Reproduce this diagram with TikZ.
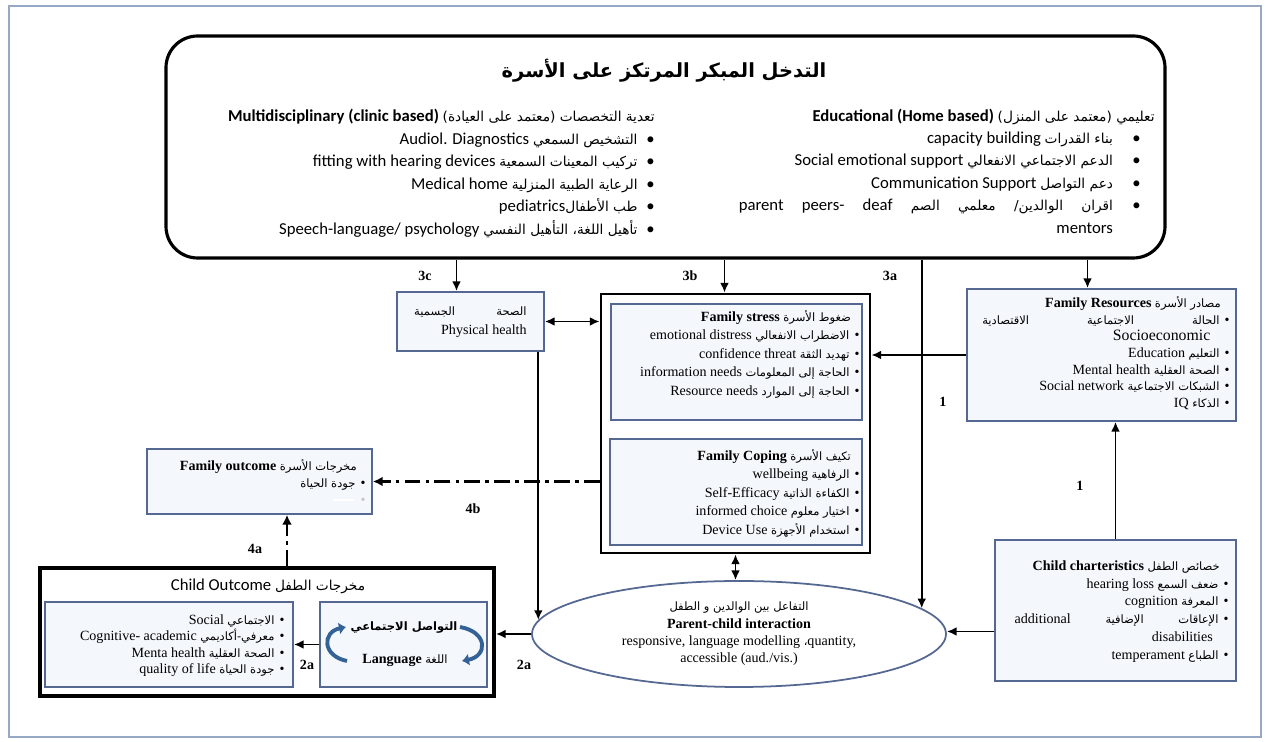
\documentclass[tikz,border=0pt]{standalone}
\usepackage{fontspec}
\setmainfont{Liberation Serif}
\newfontfamily\calib{Carlito}
\newfontfamily\arabicfont[Script=Arabic,Scale=0.82]{DejaVu Sans}
\TeXXeTstate=1
\usepackage{tikz}
\usetikzlibrary{arrows.meta,positioning,calc,shapes.geometric}
\definecolor{boxblue}{RGB}{84,104,145}
\definecolor{boxfill}{RGB}{244,247,252}
\definecolor{framegray}{RGB}{150,168,196}
\definecolor{cycleblue}{RGB}{52,98,150}
\newdimen\pxu \pxu=0.02cm

\newcommand{\arx}[1]{{\arabicfont #1}}
\newcommand{\rlx}[1]{\beginR #1\endR}
\newcommand{\lrx}[1]{\beginL #1\endL{}}
\newcommand{\jst}[2]{\hbox to #1{\beginR #2\endR}}
\newcommand{\itm}[3][3pt]{\rlx{\textbullet\hspace{#1}\arx{#2} \lrx{#3}}}
\newcommand{\hdr}[2]{\rlx{\hspace{5pt}\arx{#1} \lrx{\textbf{#2}}}}

\begin{document}
\begin{tikzpicture}[x=0.02cm, y=-0.02cm,
    box/.style={rectangle, draw=boxblue, line width=1pt, fill=boxfill, inner sep=0pt},
    bigbox/.style={rectangle, draw, line width=1.6pt, inner sep=0pt},
    cobox/.style={rectangle, draw, line width=2.2pt, inner sep=0pt},
    topbox/.style={rectangle, draw, line width=1.8pt, rounded corners=18pt, inner sep=0pt},
    topcol/.style={inner sep=0pt, align=right, font=\calib\fontsize{9.5}{12.8}\selectfont},
    txt/.style={inner sep=0pt, align=right, font=\fontsize{8}{#1}\selectfont},
    txt/.default=10.4pt,
    lbl/.style={inner sep=0pt, font=\fontsize{8}{9}\selectfont\bfseries},
    arr/.style={line width=1.1pt, -{Latex[length=5.5pt,width=5pt]}},
    darr/.style={line width=1.1pt, {Latex[length=5.5pt,width=5pt]}-{Latex[length=5.5pt,width=5pt]}},
    dd/.style={line width=1.4pt, dash pattern=on 9pt off 3pt on 2pt off 3pt, -{Latex[length=5.5pt,width=5.5pt]}},
    cyc/.style={draw=cycleblue, line width=2.2pt, -{Latex[length=4pt,width=7pt]}}
]
\useasboundingbox (0,0) rectangle (1269,742);

% frame
\draw[framegray, line width=1.2pt] (9,6) rectangle (1261,737);

% early intervention box
\node[topbox, minimum width=999*\pxu, minimum height=222*\pxu] (top) at (665.5,147) {};
\node[inner sep=0pt, font=\fontsize{13.5}{16}\selectfont\bfseries] (title) at (664,71)
    {\rlx{\arx{التدخل المبكر المرتكز على الأسرة}}};

\node[topcol, anchor=north east] (multi) at (655,109) {
    \rlx{\arx{تعدية التخصصات (معتمد على العيادة)} \lrx{\textbf{Multidisciplinary (clinic based)}}}\\
    \itm[5pt]{التشخيص السمعي}{Audiol. Diagnostics}\\
    \itm[5pt]{تركيب المعينات السمعية}{fitting with hearing devices}\\
    \itm[5pt]{الرعاية الطبية المنزلية}{Medical home}\\
    \rlx{\textbullet\hspace{5pt}\arx{طب الأطفال}\lrx{pediatrics}}\\
    \itm[5pt]{تأهيل اللغة، التأهيل النفسي}{Speech-language/ psychology}};

\node[topcol, anchor=north east] (eduhead) at (1155,109)
    {\rlx{\arx{تعليمي (معتمد على المنزل)} \lrx{\textbf{Educational (Home based)}}}};
\node[topcol, anchor=north east] (edu) at (1141,131.5) {
    \itm[11pt]{بناء القدرات}{capacity building}\\
    \itm[11pt]{الدعم الاجتماعي الانفعالي}{Social emotional support}\\
    \itm[11pt]{دعم التواصل}{Communication Support}\\
    \rlx{\textbullet\hspace{11pt}\jst{213pt}{\arx{اقران}\hfill\arx{الوالدين/}\hfill\arx{معلمي}\hfill\arx{الصم}\hfill\lrx{parent\hfill peers-\hfill deaf}}}\\
    mentors\hspace{11pt}\phantom{\textbullet}};

% physical health
\node[box, minimum width=147*\pxu, minimum height=59*\pxu] (ph) at (470.5,321.5) {};
\node[txt=10.8pt, anchor=north east] (phtxt) at (527,306) {
    \jst{64pt}{\arx{الصحة}\hfill\arx{الجسمية}}\\
    Physical health};

% family stress and coping
\node[bigbox, minimum width=269*\pxu, minimum height=259*\pxu] (big) at (735.5,423.5) {};
\node[box, minimum width=251*\pxu, minimum height=116*\pxu] (fs) at (736.5,362) {};
\node[txt=10.5pt, anchor=north east] (fstxt) at (860,310) {
    \hdr{ضغوط الأسرة}{Family stress}\\
    \itm{الاضطراب الانفعالي}{emotional distress}\\
    \itm{تهديد الثقة}{confidence threat}\\
    \itm{الحاجة إلى المعلومات}{information needs}\\
    \itm{الحاجة إلى الموارد}{Resource needs}};
\node[box, minimum width=252*\pxu, minimum height=106*\pxu] (fc) at (736,492) {};
\node[txt=10.5pt, anchor=north east] (fctxt) at (860,449) {
    \hdr{تكيف الأسرة}{Family Coping}\\
    \itm{الرفاهية}{wellbeing}\\
    \itm{الكفاءة الذاتية}{Self-Efficacy}\\
    \itm{اختيار معلوم}{informed choice}\\
    \itm{استخدام الأجهزة}{Device Use}};

% family resources
\node[box, minimum width=269*\pxu, minimum height=132*\pxu] (fr) at (1101.5,355) {};
\node[txt=9.5pt, anchor=north east] (frtxt) at (1230,296) {
    \hdr{مصادر الأسرة}{Family Resources}\\
    \rlx{\textbullet\hspace{3pt}\jst{135pt}{\arx{الحالة}\hfill\arx{الاجتماعية}\hfill\arx{الاقتصادية}}}\\
    \mbox{\fontsize{9}{9.5}\selectfont Socioeconomic\hspace{11pt}}\\
    \itm{التعليم}{Education}\\
    \itm{الصحة العقلية}{Mental health}\\
    \itm{الشبكات الاجتماعية}{Social network}\\
    \itm{الذكاء}{IQ}};

% child characteristics
\node[box, minimum width=241*\pxu, minimum height=141*\pxu] (cc) at (1115.5,610.5) {};
\node[txt=10.2pt, anchor=north east] (cctxt) at (1229,560) {
    \hdr{خصائص الطفل}{Child charteristics}\\
    \itm{ضعف السمع}{hearing loss}\\
    \itm{المعرفة}{cognition}\\
    \rlx{\textbullet\hspace{3pt}\jst{116pt}{\arx{الإعاقات}\hfill\arx{الإضافية}\hfill\lrx{additional}}}\\
    \mbox{disabilities\hspace{9pt}}\\
    \itm{الطباع}{temperament}};

% parent-child interaction
\node[ellipse, draw=boxblue, line width=1pt, fill=white, inner sep=0pt, align=center,
      minimum width=414*\pxu, minimum height=106*\pxu, font=\fontsize{8}{9.9pt}\selectfont] (pci) at (739,634) {
    \rlx{\arx{التفاعل بين الوالدين و الطفل}}\\
    \textbf{Parent-child interaction}\\
    responsive, language modelling \arx{،}quantity,\\
    accessible (aud./vis.)};

% family outcome
\node[box, minimum width=225*\pxu, minimum height=65*\pxu] (fo) at (259.5,481.5) {};
\node[txt=9.6pt, anchor=north east] (fotxt) at (366,459) {
    \hdr{مخرجات الأسرة}{Family outcome}\\
    \itm{جودة الحياة}{}\\
    \rlx{\textbullet\hspace{4pt}\textcolor{gray!45}{\rule[2pt]{12pt}{0.7pt}}}};

% child outcome
\node[cobox, minimum width=454*\pxu, minimum height=128*\pxu] (co) at (267,632) {};
\node[inner sep=0pt, font=\calib\fontsize{9.5}{11}\selectfont] (cotitle) at (268,586)
    {\rlx{\arx{مخرجات الطفل} \lrx{Child Outcome}}};
\node[box, minimum width=248*\pxu, minimum height=85*\pxu] (coL) at (169,644.5) {};
\node[txt=9.4pt, anchor=north east] (coLtxt) at (285,614) {
    \itm{الاجتماعي}{Social}\\
    \itm{معرفي-أكاديمي}{Cognitive- academic}\\
    \itm{الصحة العقلية}{Menta health}\\
    \itm{جودة الحياة}{quality of life}};
\node[box, minimum width=167*\pxu, minimum height=85*\pxu] (coR) at (403.5,644.5) {};
\node[inner sep=0pt, font=\fontsize{8}{9}\selectfont\bfseries] (soc) at (404,628) {\rlx{\arx{التواصل الاجتماعي}}};
\node[inner sep=0pt, font=\fontsize{8}{9}\selectfont] (lang) at (405,660) {\rlx{\arx{اللغة} \lrx{\textbf{Language}}}};
\draw[cyc] (347,661) .. controls (322,656) and (322,632) .. (346,627);
\draw[cyc] (460,627) .. controls (488,632) and (488,656) .. (462,661);

% connectors
\coordinate (a3c) at ($(ph.north)+(-14,0)$);
\draw[arr] (top.south -| a3c) -- (a3c);
\coordinate (a3b) at ($(big.north)+(-11,0)$);
\draw[arr] (top.south -| a3b) -- (a3b);
\draw[arr] (top.south -| pci.8) -- (pci.8);
\coordinate (afr) at ($(fr.north)+(-14,0)$);
\draw[arr] (top.south -| afr) -- (afr);
\draw[darr] (ph.east) -- (ph.east -| big.west);
\draw[arr] (fr.west) -- (fr.west -| big.east);
\draw[arr] (cc.north) -- (cc.north |- fr.south);
\coordinate (acc) at ($(cc.west)+(0,21)$);
\draw[arr] (acc) -- (acc -| pci.east);
\draw[darr] (big.south) -- (big.south |- pci.north);
\draw[arr] (ph.south -| pci.176) -- (pci.176);
\draw[arr] (pci.west) -- (pci.west -| co.east);
\draw[arr] (coR.west) -- (coL.east);
\draw[dd] (fo.east -| big.west) -- (fo.east);
\coordinate (a4a) at ($(co.north)+(20,0)$);
\draw[dd, line width=1pt] (a4a) -- (a4a |- fo.south);

% labels
\node[lbl] (l3c) at (425,276) {3c};
\node[lbl] (l3b) at (690,276) {3b};
\node[lbl] (l3a) at (890,276) {3a};
\node[lbl] (l1a) at (943,402) {1};
\node[lbl] (l1b) at (1080,486) {1};
\node[lbl] (l2a) at (524,665) {2a};
\node[lbl] (l2b) at (307,665) {2a};
\node[lbl] (l4b) at (473,509) {4b};
\node[lbl] (l4a) at (255,549) {4a};

\end{tikzpicture}
\end{document}
